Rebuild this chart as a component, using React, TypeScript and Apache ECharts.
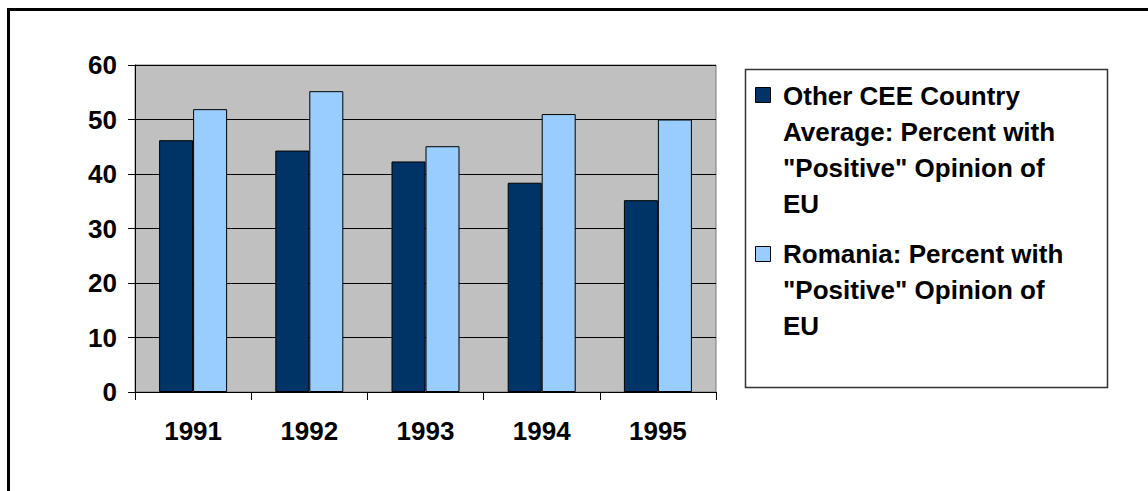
import React, { useEffect, useRef } from "react";
import * as echarts from "echarts";

const years = ["1991", "1992", "1993", "1994", "1995"];
const otherCEE = [46.2, 44.3, 42.3, 38.4, 35.2];
const romania = [51.9, 55.2, 45.1, 51, 50];
const seriesNames = [
  'Other CEE Country\nAverage: Percent with\n"Positive" Opinion of\nEU',
  'Romania: Percent with\n"Positive" Opinion of\nEU',
];
const yTicks = { min: 0, max: 60, interval: 10 };

const DARK = "#003366";
const LIGHT = "#99ccff";
const FONT = '"Liberation Sans", Arial, sans-serif';

export default function App() {
  const ref = useRef<HTMLDivElement>(null);
  useEffect(() => {
    if (!ref.current) return;
    const chart = echarts.init(ref.current, null, { renderer: "svg" });
    chart.setOption({
      animation: false,
      backgroundColor: "#fff",
      textStyle: { fontFamily: FONT },
      grid: {
        left: 135,
        top: 65,
        right: 1148 - 716,
        bottom: 491 - 392,
        show: true,
        backgroundColor: "#c0c0c0",
        borderColor: "#7a7a7a",
        borderWidth: 1,
      },
      xAxis: {
        type: "category",
        data: years,
        axisLine: { lineStyle: { color: "#000", width: 1 } },
        axisTick: { show: true, length: 8, lineStyle: { color: "#000" } },
        axisLabel: {
          color: "#000",
          fontSize: 26,
          fontWeight: "bold",
          fontFamily: FONT,
          margin: 26,
        },
      },
      yAxis: {
        type: "value",
        min: yTicks.min,
        max: yTicks.max,
        interval: yTicks.interval,
        axisLine: { show: true, lineStyle: { color: "#000", width: 1 } },
        axisTick: { show: true, length: 7, lineStyle: { color: "#000" } },
        axisLabel: {
          color: "#000",
          fontSize: 26,
          fontWeight: "bold",
          fontFamily: FONT,
          margin: 18,
        },
        splitLine: { show: true, lineStyle: { color: "#000", width: 1 } },
      },
      series: [
        {
          name: seriesNames[0],
          type: "bar",
          data: otherCEE,
          barWidth: 34,
          barGap: "0%",
          itemStyle: { color: DARK, borderColor: "#000", borderWidth: 1 },
        },
        {
          name: seriesNames[1],
          type: "bar",
          data: romania,
          barWidth: 34,
          barGap: "0%",
          itemStyle: { color: LIGHT, borderColor: "#000", borderWidth: 1 },
        },
      ],
      graphic: [
        {
          type: "rect",
          shape: { x: 8.5, y: 9.5, width: 1300, height: 700 },
          style: { fill: "none", stroke: "#000", lineWidth: 3 },
          silent: true,
        },
        {
          type: "rect",
          shape: { x: 745.5, y: 69.5, width: 362, height: 318 },
          style: { fill: "#fff", stroke: "#333", lineWidth: 1.5 },
          silent: true,
        },
        {
          type: "rect",
          shape: { x: 755.5, y: 87.5, width: 15, height: 15 },
          style: { fill: DARK, stroke: "#000", lineWidth: 1 },
        },
        {
          type: "text",
          x: 783,
          y: 78,
          style: {
            text: seriesNames[0],
            font: `bold 26px ${FONT}`,
            lineHeight: 36,
            fill: "#000",
            verticalAlign: "top",
          },
        },
        {
          type: "rect",
          shape: { x: 755.5, y: 246.5, width: 15, height: 15 },
          style: { fill: LIGHT, stroke: "#000", lineWidth: 1 },
        },
        {
          type: "text",
          x: 783,
          y: 236,
          style: {
            text: seriesNames[1],
            font: `bold 26px ${FONT}`,
            lineHeight: 36,
            fill: "#000",
            verticalAlign: "top",
          },
        },
      ],
    });
    return () => chart.dispose();
  }, []);
  return (
    <div
      ref={ref}
      style={{ position: "absolute", left: 0, top: 0, width: 1148, height: 491 }}
    />
  );
}
